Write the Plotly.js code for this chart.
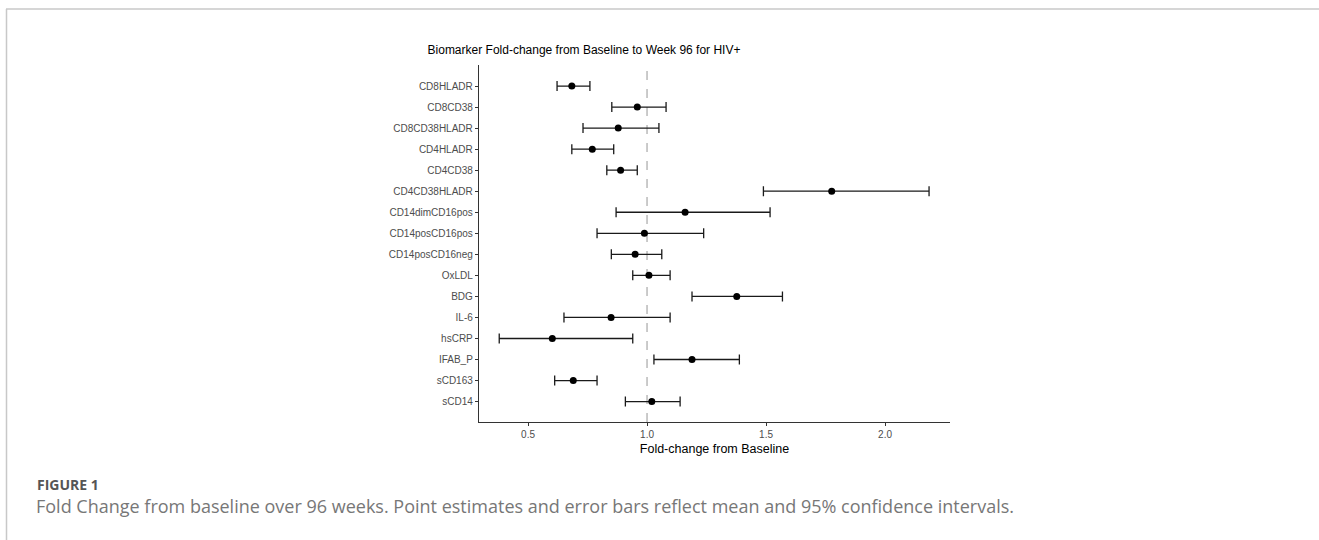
<!DOCTYPE html>
<html>
<head>
<meta charset="utf-8">
<script src="https://cdn.plot.ly/plotly-3.0.1.min.js"></script>
<style>
  html, body { margin: 0; padding: 0; background: #ffffff; }
  #chart { width: 1319px; height: 540px; }
</style>
</head>
<body>
<div id="chart"></div>
<script>
// ---- data ----
const biomarkers = ["CD8HLADR", "CD8CD38", "CD8CD38HLADR", "CD4HLADR", "CD4CD38", "CD4CD38HLADR",
  "CD14dimCD16pos", "CD14posCD16pos", "CD14posCD16neg", "OxLDL", "BDG", "IL-6", "hsCRP",
  "IFAB_P", "sCD163", "sCD14"];
const meanFold = [0.684, 0.959, 0.879, 0.770, 0.889, 1.776, 1.160, 0.989, 0.950, 1.008, 1.377, 0.849, 0.602, 1.189, 0.690, 1.020];
const lowerCI  = [0.622, 0.852, 0.731, 0.684, 0.831, 1.489, 0.870, 0.790, 0.850, 0.940, 1.189, 0.651, 0.379, 1.029, 0.612, 0.909];
const upperCI  = [0.760, 1.080, 1.050, 0.860, 0.959, 2.185, 1.517, 1.238, 1.062, 1.097, 1.569, 1.097, 0.940, 1.388, 0.790, 1.139];
const xTickVals = [0.5, 1.0, 1.5, 2.0];
const xTickText = ["0.5", "1.0", "1.5", "2.0"];
const baselineValue = 1.0;

// ---- layout geometry (pixels) ----
const W = 1319, H = 540;
const plotL = 479, plotR = 950, plotT = 65, plotB = 422;
const pw = plotR - plotL, ph = plotB - plotT;
const px = x => (x - plotL) / pw;
const py = y => (plotB - y) / ph;

const plusErr = upperCI.map((u, i) => u - meanFold[i]);
const minusErr = lowerCI.map((l, i) => meanFold[i] - l);

const trace = {
  type: "scatter",
  mode: "markers",
  x: meanFold,
  y: biomarkers,
  marker: { color: "#000000", size: 7 },
  error_x: {
    type: "data",
    symmetric: false,
    array: plusErr,
    arrayminus: minusErr,
    color: "#1a1a1a",
    thickness: 1.3,
    width: 5
  },
  hoverinfo: "x+y",
  showlegend: false
};

const layout = {
  width: W, height: H,
  margin: { l: plotL, r: W - plotR, t: plotT, b: H - plotB, pad: 0 },
  paper_bgcolor: "#ffffff",
  plot_bgcolor: "#ffffff",
  font: { family: "Liberation Sans, Arial, sans-serif", color: "#000000" },
  title: {
    text: "Biomarker Fold-change from Baseline to Week 96 for HIV+",
    font: { family: "Liberation Sans, Arial, sans-serif", size: 12, color: "#000000" },
    x: 584 / W, xref: "container", xanchor: "center",
    y: 1 - 50 / H, yref: "container", yanchor: "middle"
  },
  xaxis: {
    range: [0.294, 2.273],
    tickvals: xTickVals,
    ticktext: xTickText,
    showgrid: false,
    zeroline: false,
    showline: true,
    linecolor: "#333333",
    linewidth: 1.2,
    ticks: "outside",
    ticklen: 3,
    tickwidth: 1,
    tickcolor: "#333333",
    tickfont: { size: 10, color: "#4d4d4d" },
    title: { text: "Fold-change from Baseline", font: { size: 12.5, color: "#000000" }, standoff: 5 }
  },
  yaxis: {
    type: "category",
    categoryorder: "array",
    categoryarray: biomarkers,
    range: [15.97, -1.0],
    showgrid: false,
    zeroline: false,
    showline: true,
    linecolor: "#333333",
    linewidth: 1.2,
    ticks: "outside",
    ticklen: 3,
    tickwidth: 1,
    tickcolor: "#333333",
    tickfont: { size: 10, color: "#4d4d4d" }
  },
  shapes: [
    { type: "line", xref: "x", yref: "paper", x0: baselineValue, x1: baselineValue, y0: 0, y1: 1,
      line: { color: "#a8a8a8", width: 1.2, dash: "dash" }, layer: "below" },
    // figure frame (top and left rules)
    { type: "line", xref: "paper", yref: "paper", x0: px(6), x1: px(W), y0: py(9), y1: py(9),
      line: { color: "#c8c8c8", width: 1.5 } },
    { type: "line", xref: "paper", yref: "paper", x0: px(6.5), x1: px(6.5), y0: py(9), y1: py(H),
      line: { color: "#c8c8c8", width: 1.5 } }
  ],
  annotations: [
    { xref: "paper", yref: "paper", x: px(35), y: py(484), xanchor: "left", yanchor: "middle",
      showarrow: false, text: "<b>FIGURE 1</b>",
      font: { family: "Open Sans, sans-serif", size: 14, color: "#555555" } },
    { xref: "paper", yref: "paper", x: px(34), y: py(506), xanchor: "left", yanchor: "middle",
      showarrow: false,
      text: "Fold Change from baseline over 96 weeks. Point estimates and error bars reflect mean and 95% confidence intervals.",
      font: { family: "Open Sans, sans-serif", size: 18, color: "#777777" } }
  ]
};

Plotly.newPlot("chart", [trace], layout, { displayModeBar: false, staticPlot: true });
</script>
</body>
</html>
